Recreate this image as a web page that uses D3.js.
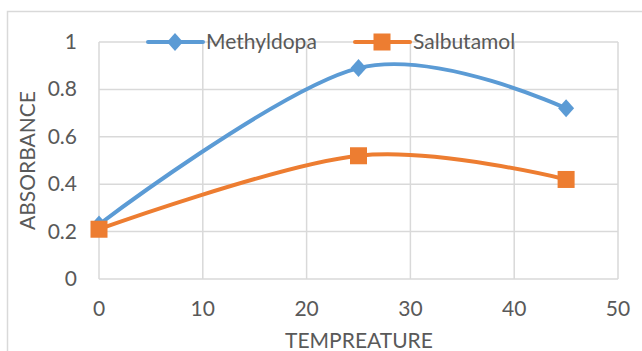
<!DOCTYPE html>
<html lang="en">
<head>
<meta charset="UTF-8">
<title>Absorbance vs Tempreature</title>
<script src="https://d3js.org/d3.v7.min.js"></script>
<style>
    body { margin: 0; background: #fff; }
    svg { display: block; font-family: Lato, 'Open Sans', sans-serif; }
</style>
</head>
<body>
<svg id="chart" width="642" height="351"></svg>
<script>
    const temperatures = [0, 25, 45];
    const methyldopa = [0.23, 0.89, 0.72];
    const salbutamol = [0.21, 0.52, 0.42];
    const xTicks = [0, 10, 20, 30, 40, 50];
    const yTicks = [0, 0.2, 0.4, 0.6, 0.8, 1];

    const series = [
        { name: "Methyldopa", values: methyldopa, color: "#5b9bd5", marker: "diamond" },
        { name: "Salbutamol", values: salbutamol, color: "#ed7d31", marker: "square" }
    ];

    const svg = d3.select("#chart");
    const textColor = "#595959";
    const gridColor = "#d9d9d9";
    const fontSize = "21px";

    // outer chart frame
    svg.append("rect")
        .attr("x", 7.5).attr("y", 11.5)
        .attr("width", 660).attr("height", 360)
        .attr("fill", "none").attr("stroke", gridColor).attr("stroke-width", 1.5);

    const x = d3.scaleLinear().domain([0, 50]).range([99, 618]);
    const y = d3.scaleLinear().domain([0, 1]).range([279, 42]);

    // gridlines
    svg.append("g").selectAll("line").data(yTicks).enter().append("line")
        .attr("x1", x(0)).attr("x2", x(50))
        .attr("y1", d => y(d)).attr("y2", d => y(d))
        .attr("stroke", gridColor).attr("stroke-width", 1.5);
    svg.append("g").selectAll("line").data(xTicks).enter().append("line")
        .attr("x1", d => x(d)).attr("x2", d => x(d))
        .attr("y1", y(0)).attr("y2", y(1))
        .attr("stroke", gridColor).attr("stroke-width", 1.5);

    // tick labels
    svg.append("g").selectAll("text").data(yTicks).enter().append("text")
        .attr("x", 77).attr("y", d => y(d) + 7)
        .attr("text-anchor", "end")
        .attr("fill", textColor).style("font-size", fontSize)
        .text(d => d);
    svg.append("g").selectAll("text").data(xTicks).enter().append("text")
        .attr("x", d => x(d)).attr("y", 316)
        .attr("text-anchor", "middle")
        .attr("fill", textColor).style("font-size", fontSize)
        .text(d => d);

    // axis titles
    svg.append("text")
        .attr("x", 359).attr("y", 348)
        .attr("text-anchor", "middle")
        .attr("fill", textColor).style("font-size", fontSize)
        .text("TEMPREATURE");
    svg.append("text")
        .attr("transform", "translate(35," + y(0.5) + ") rotate(-90)")
        .attr("text-anchor", "middle")
        .attr("fill", textColor).style("font-size", fontSize)
        .text("ABSORBANCE");

    const line = d3.line()
        .x((d, i) => x(temperatures[i]))
        .y(d => y(d))
        .curve(d3.curveCardinal.tension(0));

    function drawMarker(g, type, cx, cy, color) {
        if (type === "diamond") {
            g.append("path")
                .attr("d", `M${cx},${cy - 9}L${cx + 8},${cy}L${cx},${cy + 9}L${cx - 8},${cy}Z`)
                .attr("fill", color);
        } else {
            g.append("rect")
                .attr("x", cx - 8.5).attr("y", cy - 8.5)
                .attr("width", 17).attr("height", 17)
                .attr("fill", color);
        }
    }

    series.forEach(s => {
        const g = svg.append("g");
        g.append("path")
            .attr("d", line(s.values))
            .attr("fill", "none")
            .attr("stroke", s.color)
            .attr("stroke-width", 4)
            .attr("stroke-linecap", "round");
        s.values.forEach((v, i) => drawMarker(g, s.marker, x(temperatures[i]), y(v), s.color));
    });

    // legend
    const legendX = [148, 355];
    series.forEach((s, i) => {
        const g = svg.append("g");
        const lx = legendX[i];
        g.append("line")
            .attr("x1", lx).attr("x2", lx + 55)
            .attr("y1", 42).attr("y2", 42)
            .attr("stroke", s.color).attr("stroke-width", 4)
            .attr("stroke-linecap", "round");
        drawMarker(g, s.marker, lx + 27, 42, s.color);
        g.append("text")
            .attr("x", lx + 58).attr("y", 49)
            .attr("fill", textColor).style("font-size", fontSize)
            .text(s.name);
    });
</script>
</body>
</html>
